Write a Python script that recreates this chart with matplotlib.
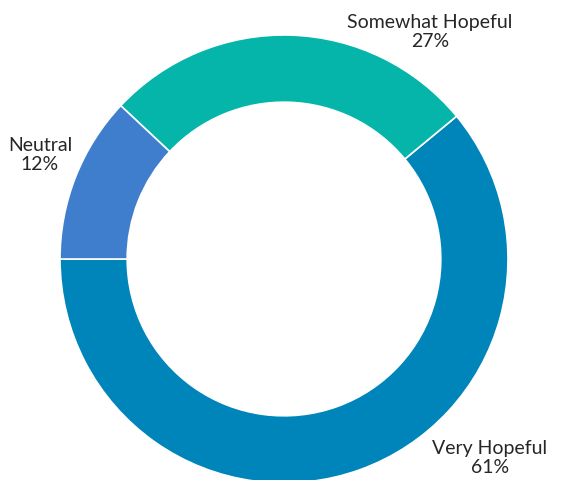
import matplotlib
matplotlib.use("Agg")
import matplotlib.pyplot as plt

labels = ["Very Hopeful", "Somewhat Hopeful", "Neutral"]
shares = [61, 27, 12]
colors = ["#0085BA", "#05B5A9", "#3F7ECD"]

# label anchor points (pixels from top-left of the canvas)
label_pos = [(490, 458), (430, 32), (40, 155)]

W, H = 564, 480
fig = plt.figure(figsize=(W / 100, H / 100), dpi=100)
ax = fig.add_axes([0, 0, 1, 1])

cx, cy, r = 284, H - 259, 224
ax.pie(shares, colors=colors, startangle=180, counterclock=True,
       center=(cx, cy), radius=r,
       wedgeprops=dict(width=r * 0.30, edgecolor="white", linewidth=1.2))

for name, val, (x, y) in zip(labels, shares, label_pos):
    ax.text(x, H - y, f"{name}\n{val}%", ha="center", va="center",
            fontsize=14, color="#262626", family="Lato", linespacing=1.2)

ax.set_xlim(0, W)
ax.set_ylim(0, H)
ax.set_aspect("equal")
ax.axis("off")

fig.savefig("out.png", dpi=100)
